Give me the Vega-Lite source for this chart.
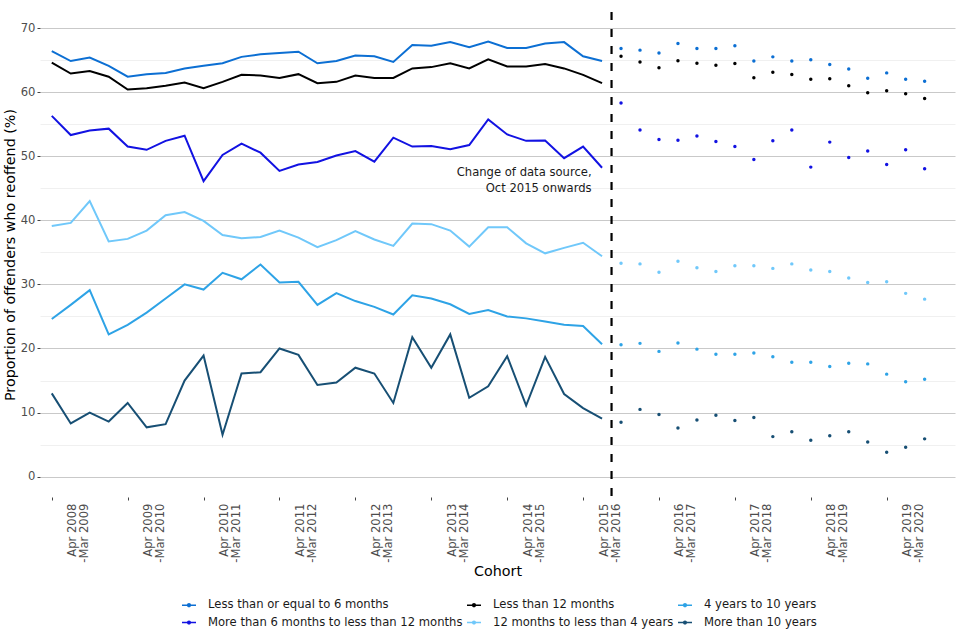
{
  "$schema": "https://vega.github.io/schema/vega-lite/v6.json",
  "width": 915,
  "height": 485,
  "autosize": {"type": "none"},
  "padding": {"left": 40, "top": 12, "right": 5, "bottom": 143},
  "config": {
    "font": "DejaVu Sans",
    "view": {"stroke": null},
    "legend": {"padding": 0}
  },
  "datasets": {
    "groups": [
      {"g": "A", "name": "Less than or equal to 6 months"},
      {"g": "B", "name": "More than 6 months to less than 12 months"},
      {"g": "C", "name": "Less than 12 months"},
      {"g": "D", "name": "12 months to less than 4 years"},
      {"g": "E", "name": "4 years to 10 years"},
      {"g": "F", "name": "More than 10 years"}
    ],
    "rates": [
      {"q":0,"g":"A","v":66.4},{"q":1,"g":"A","v":64.85},{"q":2,"g":"A","v":65.4},{"q":3,"g":"A","v":64.1},{"q":4,"g":"A","v":62.4},{"q":5,"g":"A","v":62.8},{"q":6,"g":"A","v":63.0},{"q":7,"g":"A","v":63.7},{"q":8,"g":"A","v":64.1},{"q":9,"g":"A","v":64.5},
      {"q":10,"g":"A","v":65.5},{"q":11,"g":"A","v":65.9},{"q":12,"g":"A","v":66.1},{"q":13,"g":"A","v":66.3},{"q":14,"g":"A","v":64.5},{"q":15,"g":"A","v":64.85},{"q":16,"g":"A","v":65.7},{"q":17,"g":"A","v":65.6},{"q":18,"g":"A","v":64.7},{"q":19,"g":"A","v":67.35},
      {"q":20,"g":"A","v":67.25},{"q":21,"g":"A","v":67.8},{"q":22,"g":"A","v":67.0},{"q":23,"g":"A","v":67.9},{"q":24,"g":"A","v":66.9},{"q":25,"g":"A","v":66.9},{"q":26,"g":"A","v":67.6},{"q":27,"g":"A","v":67.8},{"q":28,"g":"A","v":65.6},{"q":29,"g":"A","v":64.85},
      {"q":30,"g":"A","v":66.8},{"q":31,"g":"A","v":66.55},{"q":32,"g":"A","v":66.1},{"q":33,"g":"A","v":67.6},{"q":34,"g":"A","v":66.8},{"q":35,"g":"A","v":66.8},{"q":36,"g":"A","v":67.25},{"q":37,"g":"A","v":64.85},{"q":38,"g":"A","v":65.5},{"q":39,"g":"A","v":64.85},
      {"q":40,"g":"A","v":65.05},{"q":41,"g":"A","v":64.3},{"q":42,"g":"A","v":63.6},{"q":43,"g":"A","v":62.15},{"q":44,"g":"A","v":63.0},{"q":45,"g":"A","v":62.0},{"q":46,"g":"A","v":61.7},

      {"q":0,"g":"B","v":56.3},{"q":1,"g":"B","v":53.3},{"q":2,"g":"B","v":54.0},{"q":3,"g":"B","v":54.3},{"q":4,"g":"B","v":51.5},{"q":5,"g":"B","v":51.0},{"q":6,"g":"B","v":52.4},{"q":7,"g":"B","v":53.2},{"q":8,"g":"B","v":46.1},{"q":9,"g":"B","v":50.2},
      {"q":10,"g":"B","v":51.95},{"q":11,"g":"B","v":50.55},{"q":12,"g":"B","v":47.7},{"q":13,"g":"B","v":48.7},{"q":14,"g":"B","v":49.1},{"q":15,"g":"B","v":50.1},{"q":16,"g":"B","v":50.8},{"q":17,"g":"B","v":49.15},{"q":18,"g":"B","v":52.9},{"q":19,"g":"B","v":51.5},
      {"q":20,"g":"B","v":51.6},{"q":21,"g":"B","v":51.1},{"q":22,"g":"B","v":51.75},{"q":23,"g":"B","v":55.75},{"q":24,"g":"B","v":53.4},{"q":25,"g":"B","v":52.4},{"q":26,"g":"B","v":52.45},{"q":27,"g":"B","v":49.7},{"q":28,"g":"B","v":51.5},{"q":29,"g":"B","v":48.2},
      {"q":30,"g":"B","v":58.3},{"q":31,"g":"B","v":54.1},{"q":32,"g":"B","v":52.6},{"q":33,"g":"B","v":52.5},{"q":34,"g":"B","v":53.15},{"q":35,"g":"B","v":52.3},{"q":36,"g":"B","v":51.5},{"q":37,"g":"B","v":49.5},{"q":38,"g":"B","v":52.4},{"q":39,"g":"B","v":54.1},
      {"q":40,"g":"B","v":48.3},{"q":41,"g":"B","v":52.2},{"q":42,"g":"B","v":49.8},{"q":43,"g":"B","v":50.8},{"q":44,"g":"B","v":48.7},{"q":45,"g":"B","v":51.0},{"q":46,"g":"B","v":48.05},

      {"q":0,"g":"C","v":64.6},{"q":1,"g":"C","v":62.9},{"q":2,"g":"C","v":63.3},{"q":3,"g":"C","v":62.4},{"q":4,"g":"C","v":60.4},{"q":5,"g":"C","v":60.6},{"q":6,"g":"C","v":61.0},{"q":7,"g":"C","v":61.5},{"q":8,"g":"C","v":60.6},{"q":9,"g":"C","v":61.6},
      {"q":10,"g":"C","v":62.7},{"q":11,"g":"C","v":62.6},{"q":12,"g":"C","v":62.2},{"q":13,"g":"C","v":62.8},{"q":14,"g":"C","v":61.4},{"q":15,"g":"C","v":61.6},{"q":16,"g":"C","v":62.6},{"q":17,"g":"C","v":62.2},{"q":18,"g":"C","v":62.2},{"q":19,"g":"C","v":63.7},
      {"q":20,"g":"C","v":63.9},{"q":21,"g":"C","v":64.5},{"q":22,"g":"C","v":63.7},{"q":23,"g":"C","v":65.1},{"q":24,"g":"C","v":64.0},{"q":25,"g":"C","v":64.0},{"q":26,"g":"C","v":64.4},{"q":27,"g":"C","v":63.7},{"q":28,"g":"C","v":62.7},{"q":29,"g":"C","v":61.4},
      {"q":30,"g":"C","v":65.6},{"q":31,"g":"C","v":64.7},{"q":32,"g":"C","v":63.8},{"q":33,"g":"C","v":64.9},{"q":34,"g":"C","v":64.5},{"q":35,"g":"C","v":64.2},{"q":36,"g":"C","v":64.45},{"q":37,"g":"C","v":62.25},{"q":38,"g":"C","v":63.1},{"q":39,"g":"C","v":62.75},
      {"q":40,"g":"C","v":62.0},{"q":41,"g":"C","v":62.1},{"q":42,"g":"C","v":61.0},{"q":43,"g":"C","v":59.9},{"q":44,"g":"C","v":60.2},{"q":45,"g":"C","v":59.75},{"q":46,"g":"C","v":59.0},

      {"q":0,"g":"D","v":39.1},{"q":1,"g":"D","v":39.6},{"q":2,"g":"D","v":43.0},{"q":3,"g":"D","v":36.7},{"q":4,"g":"D","v":37.1},{"q":5,"g":"D","v":38.4},{"q":6,"g":"D","v":40.8},{"q":7,"g":"D","v":41.3},{"q":8,"g":"D","v":39.9},{"q":9,"g":"D","v":37.7},
      {"q":10,"g":"D","v":37.2},{"q":11,"g":"D","v":37.4},{"q":12,"g":"D","v":38.4},{"q":13,"g":"D","v":37.3},{"q":14,"g":"D","v":35.8},{"q":15,"g":"D","v":36.9},{"q":16,"g":"D","v":38.3},{"q":17,"g":"D","v":37.0},{"q":18,"g":"D","v":36.0},{"q":19,"g":"D","v":39.5},
      {"q":20,"g":"D","v":39.4},{"q":21,"g":"D","v":38.4},{"q":22,"g":"D","v":35.9},{"q":23,"g":"D","v":38.9},{"q":24,"g":"D","v":38.9},{"q":25,"g":"D","v":36.4},{"q":26,"g":"D","v":34.85},{"q":27,"g":"D","v":35.7},{"q":28,"g":"D","v":36.5},{"q":29,"g":"D","v":34.4},
      {"q":30,"g":"D","v":33.3},{"q":31,"g":"D","v":33.2},{"q":32,"g":"D","v":31.9},{"q":33,"g":"D","v":33.6},{"q":34,"g":"D","v":32.6},{"q":35,"g":"D","v":32.0},{"q":36,"g":"D","v":32.9},{"q":37,"g":"D","v":32.9},{"q":38,"g":"D","v":32.5},{"q":39,"g":"D","v":33.2},
      {"q":40,"g":"D","v":32.25},{"q":41,"g":"D","v":32.0},{"q":42,"g":"D","v":31.0},{"q":43,"g":"D","v":30.3},{"q":44,"g":"D","v":30.4},{"q":45,"g":"D","v":28.6},{"q":46,"g":"D","v":27.7},

      {"q":0,"g":"E","v":24.6},{"q":1,"g":"E","v":26.8},{"q":2,"g":"E","v":29.1},{"q":3,"g":"E","v":22.2},{"q":4,"g":"E","v":23.7},{"q":5,"g":"E","v":25.6},{"q":6,"g":"E","v":27.8},{"q":7,"g":"E","v":30.0},{"q":8,"g":"E","v":29.2},{"q":9,"g":"E","v":31.8},
      {"q":10,"g":"E","v":30.8},{"q":11,"g":"E","v":33.1},{"q":12,"g":"E","v":30.3},{"q":13,"g":"E","v":30.4},{"q":14,"g":"E","v":26.8},{"q":15,"g":"E","v":28.65},{"q":16,"g":"E","v":27.4},{"q":17,"g":"E","v":26.5},{"q":18,"g":"E","v":25.3},{"q":19,"g":"E","v":28.3},
      {"q":20,"g":"E","v":27.8},{"q":21,"g":"E","v":26.9},{"q":22,"g":"E","v":25.4},{"q":23,"g":"E","v":26.0},{"q":24,"g":"E","v":25.0},{"q":25,"g":"E","v":24.7},{"q":26,"g":"E","v":24.2},{"q":27,"g":"E","v":23.7},{"q":28,"g":"E","v":23.5},{"q":29,"g":"E","v":20.65},
      {"q":30,"g":"E","v":20.6},{"q":31,"g":"E","v":20.8},{"q":32,"g":"E","v":19.55},{"q":33,"g":"E","v":20.85},{"q":34,"g":"E","v":19.9},{"q":35,"g":"E","v":19.1},{"q":36,"g":"E","v":19.1},{"q":37,"g":"E","v":19.3},{"q":38,"g":"E","v":18.7},{"q":39,"g":"E","v":17.85},
      {"q":40,"g":"E","v":17.85},{"q":41,"g":"E","v":17.2},{"q":42,"g":"E","v":17.7},{"q":43,"g":"E","v":17.6},{"q":44,"g":"E","v":16.0},{"q":45,"g":"E","v":14.8},{"q":46,"g":"E","v":15.2},

      {"q":0,"g":"F","v":13.0},{"q":1,"g":"F","v":8.3},{"q":2,"g":"F","v":10.0},{"q":3,"g":"F","v":8.6},{"q":4,"g":"F","v":11.5},{"q":5,"g":"F","v":7.7},{"q":6,"g":"F","v":8.2},{"q":7,"g":"F","v":15.0},{"q":8,"g":"F","v":18.9},{"q":9,"g":"F","v":6.55},
      {"q":10,"g":"F","v":16.1},{"q":11,"g":"F","v":16.3},{"q":12,"g":"F","v":20.0},{"q":13,"g":"F","v":19.0},{"q":14,"g":"F","v":14.3},{"q":15,"g":"F","v":14.7},{"q":16,"g":"F","v":17.0},{"q":17,"g":"F","v":16.1},{"q":18,"g":"F","v":11.5},{"q":19,"g":"F","v":21.75},
      {"q":20,"g":"F","v":17.0},{"q":21,"g":"F","v":22.2},{"q":22,"g":"F","v":12.3},{"q":23,"g":"F","v":14.1},{"q":24,"g":"F","v":18.8},{"q":25,"g":"F","v":11.1},{"q":26,"g":"F","v":18.7},{"q":27,"g":"F","v":12.9},{"q":28,"g":"F","v":10.7},{"q":29,"g":"F","v":9.05},
      {"q":30,"g":"F","v":8.5},{"q":31,"g":"F","v":10.5},{"q":32,"g":"F","v":9.7},{"q":33,"g":"F","v":7.6},{"q":34,"g":"F","v":8.85},{"q":35,"g":"F","v":9.6},{"q":36,"g":"F","v":8.75},{"q":37,"g":"F","v":9.25},{"q":38,"g":"F","v":6.25},{"q":39,"g":"F","v":7.0},
      {"q":40,"g":"F","v":5.7},{"q":41,"g":"F","v":6.4},{"q":42,"g":"F","v":7.0},{"q":43,"g":"F","v":5.4},{"q":44,"g":"F","v":3.8},{"q":45,"g":"F","v":4.6},{"q":46,"g":"F","v":5.9}
    ]
  },
  "layer": [
    {
      "data": {"name": "rates"},
      "transform": [
        {"lookup": "g", "from": {"data": {"name": "groups"}, "key": "g", "fields": ["name"]}},
        {"filter": "datum.q < 30"}
      ],
      "mark": {"type": "line", "strokeWidth": 2},
      "encoding": {
        "x": {
          "field": "q", "type": "quantitative",
          "scale": {"domain": [-0.62, 47.6], "nice": false, "zero": false},
          "axis": {
            "values": [0, 4, 8, 12, 16, 20, 24, 28, 32, 36, 40, 44],
            "labelExpr": "['Apr ' + (2008 + datum.value / 4), '-Mar ' + (2009 + datum.value / 4)]",
            "labelAngle": -90, "labelAlign": "right", "labelBaseline": "middle",
            "labelOffset": 21, "labelLineHeight": 12, "labelPadding": 3,
            "labelFontSize": 11.6, "labelColor": "#4d4d4d", "labelOverlap": false, "labelBound": false,
            "grid": false, "domain": false, "tickColor": "#444444", "tickSize": 3,
            "title": "Cohort", "titleFontSize": 14.3, "titleFontWeight": "normal", "titleColor": "#000000", "titlePadding": 2
          }
        },
        "y": {
          "field": "v", "type": "quantitative",
          "scale": {"domain": [-3.17, 72.5], "nice": false, "zero": false},
          "axis": {
            "orient": "left",
            "values": [0, 10, 20, 30, 40, 50, 60, 70],
            "grid": true, "gridColor": "#c9c9c9", "gridWidth": 1.1,
            "domain": false, "tickColor": "#444444", "tickSize": 3,
            "labelFontSize": 11.6, "labelColor": "#4d4d4d", "labelPadding": 2,
            "title": "Proportion of offenders who reoffend (%)", "titleFontSize": 14.3,
            "titleFontWeight": "normal", "titleColor": "#000000", "titlePadding": 3
          }
        },
        "color": {
          "field": "name", "type": "nominal",
          "scale": {
            "domain": ["Less than or equal to 6 months", "Less than 12 months", "4 years to 10 years", "More than 6 months to less than 12 months", "12 months to less than 4 years", "More than 10 years"],
            "range": ["#0c6fd3", "#000000", "#2ea3e6", "#1212e2", "#70c8fa", "#174f74"]
          },
          "legend": {
            "orient": "none", "legendX": 142, "legendY": 586,
            "direction": "horizontal", "columns": 3, "title": null,
            "symbolType": "M-1,-0.11H1V0.11H-1ZM0.3,0A0.3,0.3,0,1,1,-0.3,0A0.3,0.3,0,1,1,0.3,0Z",
            "symbolSize": 196, "symbolStrokeWidth": 0,
            "labelFontSize": 11.6, "labelColor": "#1a1a1a", "labelOffset": 12, "labelLimit": 400,
            "columnPadding": 4, "rowPadding": 4.5,
            "encode": {"symbols": {"update": {
              "fill": {"scale": "color", "field": "value"}, "fillOpacity": {"value": 1},
              "strokeWidth": {"value": 0}
            }}}
          }
        }
      }
    },
    {
      "data": {"name": "rates"},
      "transform": [
        {"lookup": "g", "from": {"data": {"name": "groups"}, "key": "g", "fields": ["name"]}},
        {"filter": "datum.q >= 30"}
      ],
      "mark": {"type": "point", "filled": true, "size": 12, "opacity": 1},
      "encoding": {
        "x": {"field": "q", "type": "quantitative"},
        "y": {
          "field": "v", "type": "quantitative",
          "axis": {
            "orient": "right",
            "values": [5, 15, 25, 35, 45, 55, 65],
            "grid": true, "gridColor": "#ececec", "gridWidth": 0.8,
            "labels": false, "ticks": false, "domain": false, "title": null
          }
        },
        "color": {"field": "name", "type": "nominal"}
      }
    },
    {
      "data": {"values": [{"q": 29.5}]},
      "mark": {"type": "rule", "color": "#000000", "strokeWidth": 2.2, "strokeDash": [8, 9]},
      "encoding": {"x": {"field": "q", "type": "quantitative"}}
    },
    {
      "data": {"values": [{"q": 28.45, "v": 47.45}]},
      "mark": {
        "type": "text", "text": ["Change of data source,", "Oct 2015 onwards"],
        "align": "right", "baseline": "middle", "fontSize": 11.6, "lineHeight": 16, "color": "#1a1a1a"
      },
      "encoding": {
        "x": {"field": "q", "type": "quantitative"},
        "y": {"field": "v", "type": "quantitative", "axis": null}
      }
    }
  ],
  "resolve": {"axis": {"y": "independent"}}
}
